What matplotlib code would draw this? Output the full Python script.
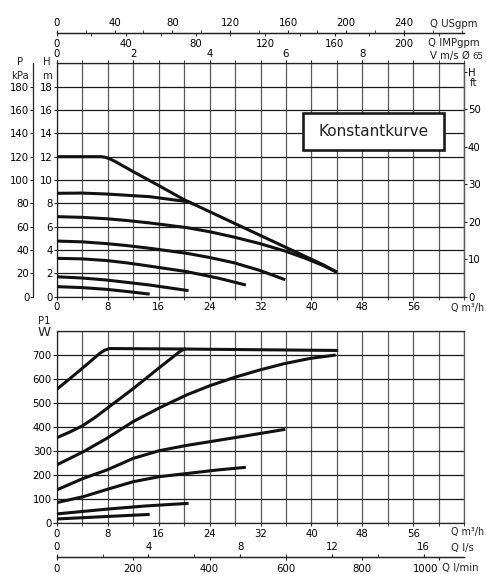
import matplotlib
matplotlib.use('Agg')
import matplotlib.pyplot as plt
from matplotlib.patches import Rectangle
from matplotlib.ticker import MultipleLocator

plt.rcParams['font.family'] = ['DejaVu Sans']
FS = 7.3

# ---------------- data ----------------
# Head curves: Q [m3/h] -> H [m]
hq_max = [0, 7.0, 7.6, 8.3, 9.2, 12.0, 16.1, 20.05, 27.9, 35.7, 41.8, 44.0]
hh_max = [12.0, 12.0, 11.95, 11.82, 11.58, 10.72, 9.5, 8.3, 6.29, 4.3, 2.75, 2.1]
hq_88 = [0, 4, 7.8, 14.6, 20.7, 21.5]
hh_88 = [8.86, 8.88, 8.8, 8.57, 8.13, 7.93]
hq_68 = [0, 4, 7.8, 11, 14.6, 20.4, 24, 27.9, 31.9, 35.8, 39, 41.8, 44.0]
hh_68 = [6.86, 6.8, 6.68, 6.53, 6.32, 5.92, 5.57, 5.1, 4.55, 3.92, 3.3, 2.68, 2.1]
hq_47 = [0, 4, 7.8, 11, 14.6, 20.4, 24, 27.9, 31.9, 35.9]
hh_47 = [4.77, 4.7, 4.55, 4.38, 4.15, 3.72, 3.36, 2.9, 2.25, 1.45]
hq_32 = [0, 4, 7.8, 11, 14.6, 20.4, 25.3, 29.7]
hh_32 = [3.29, 3.24, 3.1, 2.9, 2.62, 2.15, 1.6, 1.0]
hq_16 = [0, 4, 7.8, 11, 14.6, 20.7]
hh_16 = [1.71, 1.6, 1.43, 1.23, 1.0, 0.52]
hq_08 = [0, 4, 7.8, 11, 14.6]
hh_08 = [0.86, 0.78, 0.63, 0.45, 0.22]

# Power curves: Q [m3/h] -> P1 [W]
pq_max = [0, 3.4, 6.77, 7.5, 8.3, 20, 32, 44.2]
pp_max = [557, 631, 707, 720, 727, 725, 722, 719]
pq_2 = [0, 2, 4, 6, 8, 12, 16, 19.5, 20.3]
pp_2 = [356, 379, 405, 440, 480, 560, 645, 718, 727]
pq_3 = [0, 4.2, 7.9, 12, 16.1, 20.4, 24, 27.9, 31.9, 35.7, 39.8, 43.8]
pp_3 = [243, 298, 354, 423, 480, 534, 572, 607, 638, 664, 686, 700]
pq_4 = [0, 4.2, 7.9, 12, 16.1, 20.4, 27.9, 35.9]
pp_4 = [139, 187, 222, 270, 302, 324, 356, 391]
pq_5 = [0, 4.2, 7.9, 12, 16.1, 20.4, 25.3, 29.7]
pp_5 = [86, 111, 141, 173, 194, 207, 222, 233]
pq_6 = [0, 7.9, 13.9, 20.7]
pp_6 = [39, 59, 72, 83]
pq_7 = [0, 14.6]
pp_7 = [18, 37]

# tick values / labels
q_ticks = [0, 8, 16, 24, 32, 40, 48, 56]
h_ticks = [0, 2, 4, 6, 8, 10, 12, 14, 16, 18]
kpa_ticks = [0, 20, 40, 60, 80, 100, 120, 140, 160, 180]
ft_ticks = [0, 10, 20, 30, 40, 50, 60]
ft_labels = ['0', '10', '20', '30', '40', '50', 'H']
w_ticks = [0, 100, 200, 300, 400, 500, 600, 700]
usgpm_ticks = [0, 40, 80, 120, 160, 200, 240]
imp_ticks = [0, 40, 80, 120, 160, 200]
v_ticks = [0, 2, 4, 6, 8]
ls_ticks = [0, 4, 8, 12, 16]
lmin_ticks = [0, 200, 400, 600, 800, 1000]

# unit conversions
USGPM = 0.2271   # m3/h per US gpm
IMPGPM = 0.2728  # m3/h per Imp gpm
V_Q = 6.0        # m3/h per m/s (as drawn)
LS = 3.6         # m3/h per l/s
LMIN = 0.06      # m3/h per l/min
FT_PER_M = 3.115 # as drawn
KPA_PER_M = 10.0

# ---------------- layout ----------------
W, H = 486, 574
fig = plt.figure(figsize=(W / 100, H / 100), dpi=100)


def fx(px):
    return px / W


def fy(py):
    return 1 - py / H


L, R = 56.7, 464.3
T1, B1 = 63.3, 296.7
T2, B2 = 331.0, 523.3
ax1 = fig.add_axes([fx(L), fy(B1), (R - L) / W, (B1 - T1) / H])
ax2 = fig.add_axes([fx(L), fy(B2), (R - L) / W, (B2 - T2) / H])

TL = 2.16  # tick length (pt) ~3px
VCOL = '#5a5a5a'
HCOL = '#1a1a1a'
CCOL = '#111111'
CLW = 2.2


def style_main(ax, ymax, ystep, yticks):
    ax.set_xlim(0, 64)
    ax.set_ylim(0, ymax)
    ax.set_xticks(q_ticks)
    ax.xaxis.set_minor_locator(MultipleLocator(4))
    ax.set_yticks(yticks)
    ax.yaxis.set_minor_locator(MultipleLocator(ystep))
    ax.grid(True, which='both', axis='x', color=VCOL, lw=0.9)
    ax.grid(True, which='both', axis='y', color=HCOL, lw=0.9)
    ax.set_axisbelow(True)
    ax.tick_params(axis='x', which='both', direction='out', length=TL,
                   labelsize=FS, pad=2.0, color='#222')
    ax.tick_params(axis='y', which='major', direction='out', length=TL,
                   labelsize=FS, pad=0.5, color='#222')
    ax.tick_params(axis='y', which='minor', length=0)
    for s in ax.spines.values():
        s.set_color('#222')
        s.set_linewidth(0.9)
    ax.spines['right'].set_color(VCOL)


# ---------------- top chart: head ----------------
style_main(ax1, 20, 2, h_ticks)
ax1.tick_params(axis='x', which='both', top=True)

head_curves = [(hq_max, hh_max), (hq_88, hh_88), (hq_68, hh_68), (hq_47, hh_47),
               (hq_32, hh_32), (hq_16, hh_16), (hq_08, hh_08)]
for q, h in head_curves:
    ax1.plot(q, h, color=CCOL, lw=CLW, solid_capstyle='butt',
             solid_joinstyle='round', zorder=3)

# kPa axis (separate line on the left)
kpa_loc = (32.7 - L) / (R - L)
sk = ax1.secondary_yaxis(kpa_loc, functions=(lambda m: m * KPA_PER_M,
                                             lambda k: k / KPA_PER_M))
sk.set_yticks(kpa_ticks)
sk.tick_params(length=TL, pad=0.3, labelsize=FS, color='#222')
sk.spines['left'].set_color('#222')
sk.spines['left'].set_linewidth(0.9)

# ft axis on the right
sf = ax1.secondary_yaxis('right', functions=(lambda m: m * FT_PER_M,
                                             lambda f: f / FT_PER_M))
sf.set_yticks(ft_ticks, labels=ft_labels)
sf.tick_params(length=TL, pad=0.5, labelsize=FS, color='#222')
sf.spines['right'].set_color(VCOL)
sf.spines['right'].set_linewidth(0.9)

# velocity axis on the top spine
sv = ax1.secondary_xaxis('top', functions=(lambda q: q / V_Q, lambda v: v * V_Q))
sv.set_xticks(v_ticks)
sv.tick_params(length=TL, pad=1.2, labelsize=FS, color='#222')
sv.spines['top'].set_visible(False)

# US gpm / Imp gpm scale line above
gpm_loc = 1 + (T1 - 33.3) / (B1 - T1)
su = ax1.secondary_xaxis(gpm_loc, functions=(lambda q: q / USGPM, lambda g: g * USGPM))
su.set_xticks(usgpm_ticks)
su.xaxis.set_minor_locator(MultipleLocator(20))
su.tick_params(which='both', length=TL, pad=1.8, labelsize=FS, color='#222')
su.spines['top'].set_color('#222')
su.spines['top'].set_linewidth(0.9)

si = ax1.secondary_xaxis(gpm_loc, functions=(lambda q: q / IMPGPM, lambda g: g * IMPGPM))
si.set_alignment('bottom')
si.set_xticks(imp_ticks)
si.xaxis.set_minor_locator(MultipleLocator(20))
si.tick_params(which='both', length=TL, pad=2.3, labelsize=FS, color='#222')
si.spines['bottom'].set_color('#222')
si.spines['bottom'].set_linewidth(0.9)

# Konstantkurve box
bx0, bx1 = (303 - L) / (R - L), (444 - L) / (R - L)
by0, by1 = (B1 - 150) / (B1 - T1), (B1 - 113) / (B1 - T1)
ax1.add_patch(Rectangle((bx0, by0), bx1 - bx0, by1 - by0, transform=ax1.transAxes,
                        facecolor='white', edgecolor='#1a1a1a', lw=1.9, zorder=4))
ax1.text((bx0 + bx1) / 2, (by0 + by1) / 2, 'Konstantkurve', transform=ax1.transAxes,
         ha='center', va='center', fontsize=11, color='#222', zorder=5)

# ---------------- bottom chart: power ----------------
style_main(ax2, 800, 100, w_ticks)
ax2.tick_params(axis='y', which='major', length=3.0)

power_curves = [(pq_max, pp_max), (pq_2, pp_2), (pq_3, pp_3), (pq_4, pp_4),
                (pq_5, pp_5), (pq_6, pp_6), (pq_7, pp_7)]
for q, p in power_curves:
    ax2.plot(q, p, color=CCOL, lw=CLW, solid_capstyle='butt',
             solid_joinstyle='round', zorder=3)

flow_loc = -(557.3 - B2) / (B2 - T2)
sls = ax2.secondary_xaxis(flow_loc, functions=(lambda q: q / LS, lambda s: s * LS))
sls.set_alignment('top')
sls.set_xticks(ls_ticks)
sls.xaxis.set_minor_locator(MultipleLocator(2))
sls.tick_params(which='both', length=TL, pad=1.8, labelsize=FS, color='#222')
sls.spines['top'].set_color('#222')
sls.spines['top'].set_linewidth(0.9)

slm = ax2.secondary_xaxis(flow_loc, functions=(lambda q: q / LMIN, lambda m: m * LMIN))
slm.set_alignment('bottom')
slm.set_xticks(lmin_ticks, labels=[str(v) for v in lmin_ticks])
slm.tick_params(which='both', length=TL, pad=3.0, labelsize=FS, color='#222')
slm.spines['bottom'].set_color('#222')
slm.spines['bottom'].set_linewidth(0.9)
slm.get_xticklabels()[-1].set_horizontalalignment('right')

# ---------------- axis captions ----------------
def ftext(x, y, s, ha='left', size=FS):
    fig.text(fx(x), fy(y), s, ha=ha, va='center', fontsize=size, color='#222')


ftext(430, 24, 'Q USgpm')
ftext(428, 43.3, 'Q IMPgpm')
ftext(430, 55.5, 'V m/s Ø')
ftext(472, 56.5, '65', size=6.2)
ftext(20, 62.5, 'P', ha='center')
ftext(20, 76, 'kPa', ha='center')
ftext(47, 62.5, 'H', ha='center')
ftext(47, 76, 'm', ha='center')
ftext(474, 83, 'ft', ha='center')
ftext(451, 308.5, 'Q m³/h', size=6.9)
ftext(44, 320.5, 'P1', ha='center')
ftext(44, 332.5, 'W', ha='center', size=9.5)
ftext(451, 532.3, 'Q m³/h', size=6.9)
ftext(451, 548.3, 'Q l/s')
ftext(442, 568.3, 'Q l/min')

fig.savefig('out.png', dpi=100, facecolor='white')
